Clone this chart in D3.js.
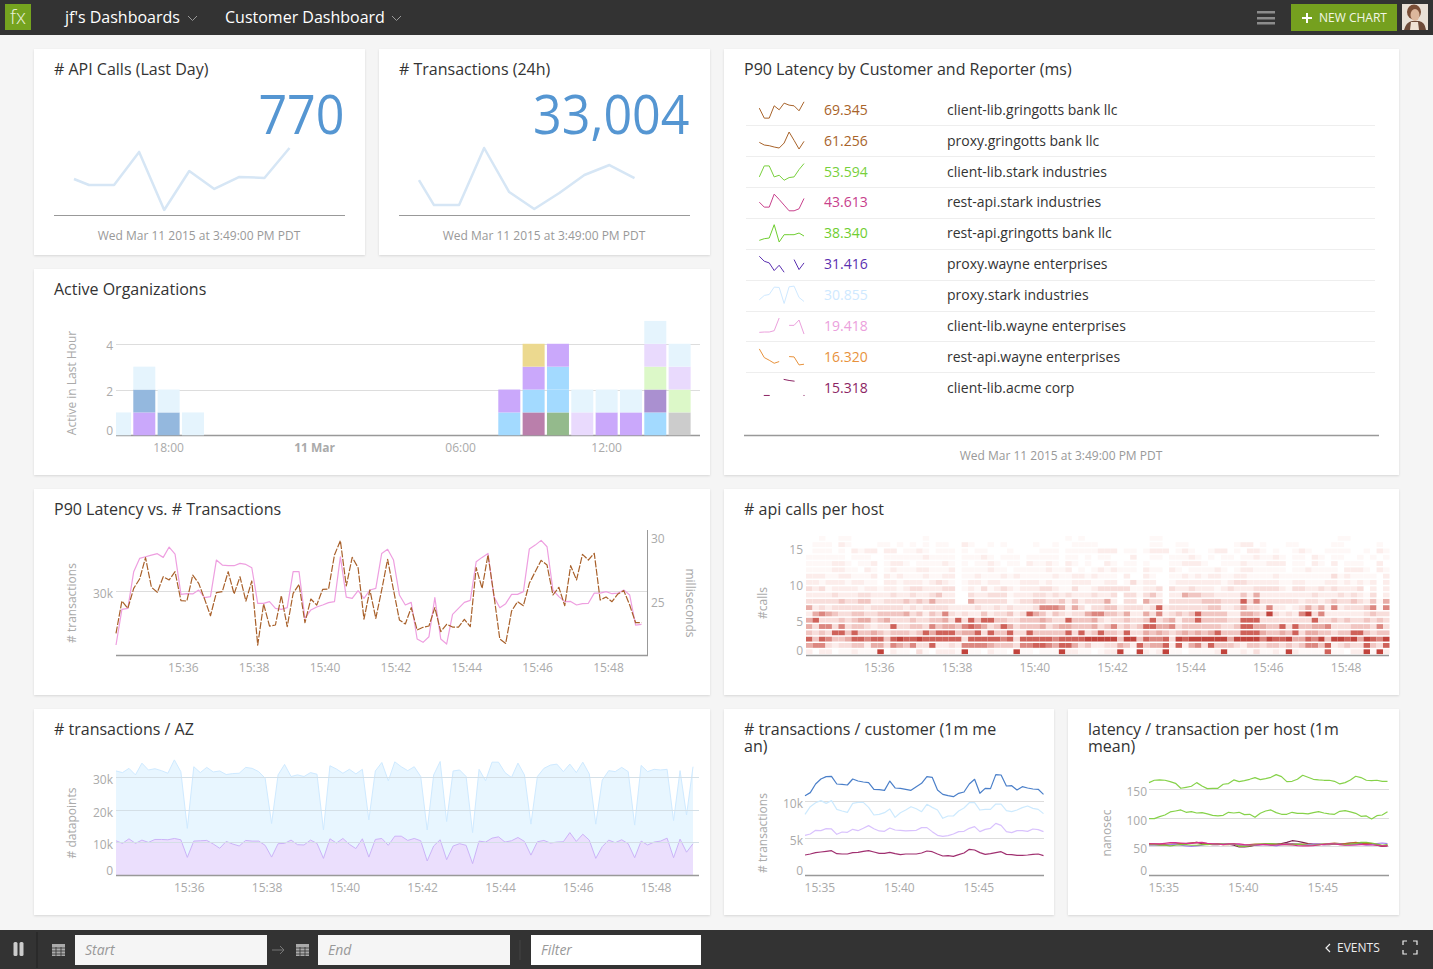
<!DOCTYPE html>
<html>
<head>
<meta charset="utf-8">
<title>Customer Dashboard</title>
<script src="https://cdn.jsdelivr.net/npm/d3@7"></script>
<style>
  html, body { margin: 0; padding: 0; background: #f5f5f5; overflow: hidden; }
  svg { display: block; font-family: 'Open Sans', sans-serif; }
  .card { fill: #fff; filter: drop-shadow(0 1px 1px rgba(0,0,0,0.12)); }
  .title { font-size: 16px; fill: #333; }
  .stamp { font-size: 12px; fill: #999; text-anchor: middle; }
  .big { font-size: 54px; font-weight: 400; fill: #5596d2; text-anchor: end; }
  .axis text { font-size: 12px; fill: #aaa; font-family: 'Open Sans', sans-serif; }
  .axis path, .axis line { display: none; }
  .axis-label { font-size: 12px; fill: #aaa; text-anchor: middle; }
  .grid { stroke: #ddd; stroke-width: 1; }
  .base { stroke: #999; stroke-width: 1.5; }
  .row-sep { stroke: #eee; stroke-width: 1; }
  .nav { font-size: 16px; fill: #fff; }
  .hint { font-size: 14px; font-style: italic; fill: #999; }
  path.ln { fill: none; }
</style>
</head>
<body>
<svg id="page" width="1433" height="969"></svg>
<script>
// ---- number cards (first sample starts part way through its bucket)
const sparkSlots = [0.4, 1, 2, 3, 4, 5, 6, 7, 8, 9];
const apiCalls = [414, 345, 345, 725, 58, 506, 299, 437, 426, 770];
const transactions24h = [31.2, 8.9, 8.9, 59.8, 20.5, 5.4, 19.6, 35.7, 44.6, 33.0];
const stampText = 'Wed Mar 11 2015 at 3:49:00 PM PDT';

// ---- latency table
const latencyValues = ['69.345', '61.256', '53.594', '43.613', '38.340', '31.416', '30.855', '19.418', '16.320', '15.318'];
const latencyNames = ['client-lib.gringotts bank llc', 'proxy.gringotts bank llc', 'client-lib.stark industries', 'rest-api.stark industries',
  'rest-api.gringotts bank llc', 'proxy.wayne enterprises', 'proxy.stark industries', 'client-lib.wayne enterprises',
  'rest-api.wayne enterprises', 'client-lib.acme corp'];
const latencyColors = ['#a8632a', '#a8632a', '#78d03c', '#c8408c', '#6fce30', '#5a2fb0', '#cfe9ff', '#eba0dc', '#e8923c', '#8c2464'];
const latencySparks = [
  [32, 2, 2, 39, 27, 47, 41, 39, 24, 51],
  [22, 14, 12, 8, 5, 20, 53, 28, 2, 25],
  [11, 44, 44, 11, 16, 1, 9, 11, 33, 51],
  [28, 13, 13, 52, 36, 19, 2, 2, 8, 39],
  [6, 11, 13, 53, 1, 23, 23, 23, 28, 19],
  [51, 36, 31, 8, 24, 3, null, 41, 11, 31],
  [13, 26, 29, 51, 50, 2, 52, 54, 20, 8],
  [8, 9, 9, 13, 51, null, 29, 29, 45, 3],
  [51, 25, 17, 8, 13, null, 28, 27, 3, 5],
  [null, 4, 4, null, null, 52, 49, 47, null, 4]
];

// ---- active organizations, one stack per hour, bottom org first
const orgHours = [16, 17, 18, 19, 32, 33, 34, 35, 36, 37, 38, 39];
const orgStacks = [
  ['pale'],
  ['purple', 'steel', 'pale'],
  ['steel', 'pale'],
  ['pale'],
  ['sky', 'purple'],
  ['mauve', 'sky', 'purple', 'gold'],
  ['sage', 'sky', 'sky', 'purple'],
  ['lilac', 'pale'],
  ['purple', 'pale'],
  ['purple', 'pale'],
  ['sky', 'plum', 'lime', 'lilac', 'pale'],
  ['grey', 'lime', 'lilac', 'pale']
];
const orgNames = ['pale', 'purple', 'steel', 'sky', 'mauve', 'gold', 'sage', 'lilac', 'plum', 'lime', 'grey'];
const orgColors = ['#e5f4fd', '#caa8fb', '#94b8de', '#a3daff', '#ba7fab', '#ecd98f', '#94ba8c', '#e9dafd', '#aa90d0', '#dcf8c8', '#cccccc'];

// ---- P90 latency vs transactions, one point every 10 seconds
const p90Transactions = [25.78, 28.57, 28.65, 31.51, 32.55, 32.68, 32.81, 32.92, 32.63, 33.44, 32.89, 29.74, 29.79, 29.77, 30.08, 29.48, 29.56, 32.42, 32.03, 31.98, 31.98, 32.16, 32.08, 31.82, 29.04, 29.04, 29.17, 28.65, 28.57, 28.70, 31.51, 31.51, 27.87, 28.52, 28.75, 28.91, 29.09, 29.17, 32.68, 29.53, 29.43, 30.03, 29.43, 30.08, 30.21,
  32.94, 33.26, 32.42, 29.69, 28.91, 29.11, 26.25, 25.99, 26.43, 29.48, 26.25, 25.86, 28.18, 28.65, 29.11, 29.27, 32.29, 32.63, 32.94, 29.56, 28.70, 29.01, 29.74, 29.74, 29.95, 33.28, 33.59, 33.96, 33.46, 30.08, 29.56, 29.17, 29.19, 28.91, 29.01, 29.04, 29.84, 29.84, 29.95, 29.79, 29.84, 30.08, 29.69, 27.34, 27.40];
const p90Latency = [22.60, 25.11, 24.54, 26.10, 26.82, 28.48, 26.18, 25.79, 27.00, 26.75, 27.39, 25.14, 25.11, 27.13, 26.49, 25.27, 23.97, 25.76, 25.84, 27.39, 25.66, 27.00, 25.11, 26.67, 21.69, 24.88, 23.17, 23.25, 25.53, 23.12, 25.71, 26.41, 23.43, 25.27, 24.80, 26.02, 26.05, 28.69, 29.80, 26.28, 28.51, 27.70, 23.71, 25.97, 23.77,
  25.97, 28.35, 25.97, 23.64, 23.33, 24.60, 22.86, 23.07, 23.17, 24.60, 22.73, 23.30, 23.09, 23.09, 23.69, 23.12, 27.70, 26.10, 28.69, 25.58, 22.16, 21.82, 24.34, 25.06, 24.75, 26.49, 27.39, 28.27, 27.91, 25.58, 26.18, 24.75, 27.86, 26.75, 28.74, 28.30, 28.82, 25.19, 25.42, 25.06, 25.66, 25.92, 24.80, 23.43, 23.43];

// ---- api calls per host heatmap: one string per bucket (bottom first), one density digit per 10s column
const heatRows = [
  '2022011211 1802110310 2221811021 1081101118 2211012281 0821281101 1112811213 1121821111 7110228182',
  '5663233442 5536546337 2232666654 4436677657 7534223354 2745572725 6374443244 3443434664 7234337437',
  '7476445776 7747877877 7777377777 6737777767 7778888848 8476673878 8888858888 6877855768 4887858768',
  '4343774744 5434443475 7774557374 4733744444 7373474437 3354543454 5457444777 5445473554 4344774344',
  '5366363443 2337334436 4554676534 7534445345 5444534634 3477556344 4444334775 5447374455 6333444363',
  '5733343455 3453334334 4537374774 4334445433 7444532334 3347345244 7444433777 3333333373 3434334343',
  '2565433443 3444453424 3632322423 3423754243 2335664435 2253623434 7444422554 3832326836 2222223433',
  '5232333332 3333323233 3322223223 2322236665 2531334423 3323723333 3344223533 2622123535 2623334616',
  '3333343344 2233343435 3330053333 3123344334 2423335203 3053303333 3444333736 3333332332 3433432415',
  '2222322233 2223223223 4220032233 3122233232 3222322303 3134202254 4332222425 2222222232 2232321302',
  '3231222212 2122123322 2330121312 3212223321 1311233333 1122303223 2221232223 3332133223 2322230202',
  '2212221221 1022122212 3210122122 1112221211 1222112201 3122001222 2222123322 2221122111 2212121202',
  '2221122111 2021211121 1220112111 2121111121 1221211102 0021001121 2122112211 1121111111 1312111102',
  '1111221102 1012111221 1120111121 1011111211 2010121211 1021102101 1112101221 1111011211 1102221021',
  '1111221011 2012210111 1210101121 0110211210 2101002101 1010001122 2100111211 1222011021 0201110020',
  '1111110111 0011111121 1110111210 1110111110 1101011000 2001101112 1010110112 1121011021 0110010101',
  '0111010212 2022011210 1110101100 0100001110 1111122201 1012220121 0012201022 1010012100 1111001021',
  '0111021000 0110101010 1100210010 1000010010 0111100000 0001100110 0000001220 1000110000 0110000010',
  '0010011000 0000000010 0000000000 0000000000 1010000000 0001100000 0000000000 0000000000 0011000000'
];
const heatBinSize = 0.875;
const heatLevels = [0, 1, 2, 3, 4, 5, 6, 7, 8];
const heatShades = ['#ffffff', '#fef8f7', '#fcedeb', '#f8dedb', '#f1c6c2', '#e8aca6', '#dc8780', '#cf625a', '#c1433c'];

// ---- transactions by AZ (stacked, thousands)
const azLower = [10.5, 9.7, 11.1, 9.7, 10.7, 10.0, 10.9, 10.9, 10.8, 11.2, 10.8, 5.4, 10.4, 10.5, 10.6, 9.5, 8.2, 10.3, 9.5, 8.9, 10.6, 10.4, 10.4, 9.1, 5.5, 9.6, 9.7, 10.7, 9.3, 9.2, 10.7, 9.7, 5.1, 11.1, 9.8, 11.2, 9.4, 8.1, 11.1, 5.5, 10.9, 11.2, 9.1, 11.9, 11.9, 10.6, 11.2, 10.5, 4.3, 8.9, 10.8, 4.7, 8.9, 9.6, 9.1, 3.5, 10.4, 10.1, 11.3, 11.7, 10.1, 10.5, 11.5, 10.3, 6.1, 10.2, 10.6, 9.8, 10.1, 10.2, 13.0, 10.3, 12.5, 10.7, 5.1, 8.7, 10.7, 9.9, 10.8, 9.6, 5.3, 10.4, 9.2, 10.1, 10.4, 11.3, 5.3, 11.0, 7.0, 9.6];
const azTotal = [31.9, 31.4, 32.7, 30.7, 34.3, 32.2, 32.6, 32.0, 31.2, 35.3, 31.7, 14.3, 33.2, 31.4, 33.0, 31.6, 31.9, 30.8, 31.1, 31.2, 33.0, 32.7, 31.7, 29.7, 15.8, 30.7, 33.9, 30.2, 30.7, 30.2, 31.4, 30.9, 13.8, 33.5, 32.5, 31.2, 32.4, 31.0, 32.4, 16.9, 31.9, 34.5, 28.9, 34.7, 33.2, 32.0, 33.2, 30.2, 13.8, 30.7, 34.8, 16.4, 31.9, 32.2, 30.2, 13.0, 32.4, 28.9, 34.6, 34.6, 31.4, 29.9, 34.3, 30.7, 15.6, 30.2, 32.7, 33.7, 34.0, 31.7, 34.0, 31.4, 34.6, 31.0, 15.6, 29.1, 32.0, 31.7, 33.0, 31.7, 15.3, 33.6, 31.7, 32.4, 32.2, 32.4, 16.7, 32.0, 18.4, 33.2];

// ---- transactions per customer (thousands), one point every 20 seconds
const custBlue = [10.72, 11.13, 12.30, 12.97, 13.29, 13.33, 12.30, 12.25, 12.16, 12.97, 12.70, 12.57, 12.48, 11.58, 11.53, 11.44, 12.70, 11.76, 11.71, 11.58, 11.44, 11.94, 12.39, 13.29, 13.20, 11.49, 10.90, 10.72, 10.59, 11.04, 11.22, 12.30, 12.93, 11.04, 11.71, 11.67, 13.56, 13.51, 12.03, 12.07, 11.49, 11.94, 11.76, 11.62, 11.58, 10.90];
const custPale = [8.20, 9.23, 9.77, 10.05, 9.68, 10.05, 8.87, 8.65, 8.47, 9.68, 9.82, 9.82, 9.14, 8.11, 8.20, 8.42, 8.92, 7.79, 8.42, 8.78, 9.23, 8.96, 8.56, 9.55, 9.14, 8.78, 7.66, 7.97, 7.97, 8.65, 9.05, 9.77, 9.77, 8.78, 8.87, 8.87, 9.59, 9.59, 8.69, 8.56, 8.78, 9.10, 9.32, 9.01, 8.87, 8.29];
const custLilac = [5.36, 5.54, 6.04, 5.99, 6.26, 6.22, 5.50, 5.81, 5.77, 6.17, 5.99, 6.31, 6.67, 6.26, 5.95, 5.90, 6.35, 6.08, 6.04, 5.95, 5.99, 6.04, 6.40, 6.40, 5.86, 5.36, 5.23, 5.32, 5.54, 5.86, 5.90, 6.31, 6.53, 5.86, 6.17, 6.31, 6.98, 6.71, 5.86, 5.72, 5.99, 5.99, 5.90, 6.22, 6.13, 5.86];
const custMaroon = [2.70, 2.84, 3.02, 3.11, 3.20, 3.29, 2.88, 2.84, 2.84, 3.02, 3.06, 3.20, 3.29, 3.11, 2.93, 2.93, 3.06, 2.88, 2.75, 2.84, 2.84, 2.84, 2.97, 3.24, 3.15, 2.84, 2.57, 2.61, 2.52, 2.75, 2.97, 3.47, 3.38, 3.02, 2.79, 2.88, 3.02, 3.15, 2.79, 2.75, 2.66, 2.66, 2.70, 2.79, 2.84, 2.61];

// ---- latency per host (nanosec)
const hostTop = [161.6, 165.7, 166.3, 165.7, 163.4, 160.4, 151.7, 153.4, 155.2, 161.6, 155.8, 151.1, 151.7, 151.7, 158.7, 159.9, 166.3, 163.4, 165.1, 167.4, 170.4, 166.9, 168.6, 170.9, 175.6, 172.1, 163.4, 163.9, 167.4, 174.4, 170.9, 167.4, 166.3, 165.7, 165.7, 163.9, 159.3, 161.6, 166.3, 172.7, 170.4, 165.7, 165.1, 165.7, 163.9, 163.9];
const hostSecond = [98.6, 98.6, 102.1, 105.0, 110.3, 112.0, 113.8, 109.7, 110.8, 108.5, 109.1, 106.8, 104.4, 103.3, 104.4, 109.7, 108.5, 109.7, 105.6, 106.2, 100.9, 107.9, 112.0, 113.8, 109.1, 106.2, 106.2, 109.7, 107.9, 107.9, 106.8, 109.1, 110.8, 108.5, 106.8, 106.2, 111.4, 112.6, 110.3, 107.9, 102.7, 103.3, 98.0, 103.8, 105.0, 110.8];
const hostPurple = [52, 52, 52, 52, 53, 54, 52, 51, 50, 51, 52, 54, 54, 55, 54, 54, 54, 53, 52, 52, 52, 53, 53, 52, 51, 53, 54, 54, 54, 53, 53, 54, 54, 53, 54, 55, 54, 53, 53, 53, 54, 52, 53, 55, 56, 55];
const hostOlive = [53, 53, 52, 52, 51, 52, 53, 53, 52, 52, 53, 53, 54, 55, 54, 54, 55, 50, 50, 51, 53, 54, 55, 55, 54, 53, 53, 53, 54, 53, 52, 52, 53, 54, 54, 55, 53, 53, 54, 55, 57, 57, 56, 54, 52, 53];
const hostBrown = [55, 54, 54, 53, 54, 54, 55, 55, 56, 57, 56, 55, 54, 54, 53, 53, 54, 52, 52, 53, 54, 54, 53, 53, 53, 54, 55, 55, 54, 54, 54, 53, 53, 54, 55, 56, 55, 55, 56, 57, 56, 55, 55, 53, 51, 52];
const hostMaroon = [54, 54, 53, 53, 53, 54, 54, 55, 56, 57, 55, 54, 53, 53, 54, 54, 52, 49, 49, 50, 52, 53, 54, 54, 54, 55, 57, 60, 59, 57, 55, 54, 54, 53, 53, 54, 54, 55, 56, 56, 55, 54, 54, 52, 50, 51];
const hostMagenta = [54.3, 54.3, 54.3, 55.4, 56.6, 56.6, 56.0, 55.4, 55.4, 56.6, 57.2, 55.4, 54.3, 54.3, 53.1, 54.3, 54.3, 54.3, 53.1, 52.5, 52.5, 53.1, 53.7, 52.0, 52.5, 53.1, 53.1, 52.5, 51.3, 50.8, 50.8, 51.3, 52.5, 53.7, 54.3, 54.3, 53.1, 52.0, 52.0, 52.5, 53.1, 53.1, 52.5, 52.0, 50.8, 50.8];

// Helpers
const svg = d3.select('#page');
const at = (h, m, s) => new Date(2015, 2, 11, h, m, s || 0);
const seconds = (start, step, i) => new Date(start.getTime() + step * i * 1000);
const hhmm = d3.timeFormat('%H:%M');
const twoMin = [36, 38, 40, 42, 44, 46, 48].map(m => at(15, m));
const fiveMin = [35, 40, 45].map(m => at(15, m));

svg.append('rect').attr('width', 1433).attr('height', 969).attr('fill', '#f5f5f5');

function card(x, y, w, h, title, title2) {
    svg.append('rect').attr('class', 'card').attr('x', x).attr('y', y).attr('width', w).attr('height', h);
    const t = svg.append('text').attr('class', 'title').attr('x', x + 20).attr('y', y + 25.5);
    t.append('tspan').text(title);
    if (title2) t.append('tspan').attr('x', x + 20).attr('dy', 17).text(title2);
}

function yAxis(scale, x, values, labelFmt, zeroLift, side, shift) {
    const axis = (side === 'right' ? d3.axisRight(scale) : d3.axisLeft(scale))
        .tickValues(values).tickSize(0).tickPadding(0).tickFormat(labelFmt || (d => d));
    const g = svg.append('g').attr('class', 'axis').attr('transform', `translate(${x},0)`).call(axis);
    g.selectAll('text').attr('y', d => d === 0 ? -zeroLift : (shift || 0));
}

function xAxis(scale, y, values, fmt) {
    const g = svg.append('g').attr('class', 'axis').attr('transform', `translate(0,${y})`)
        .call(d3.axisBottom(scale).tickValues(values).tickSize(0).tickPadding(8).tickFormat(fmt));
    g.selectAll('text').attr('x', -0.5);
    return g;
}

function grid(scale, values, x1, x2) {
    svg.selectAll(null).data(values).join('line').attr('class', 'grid')
        .attr('x1', x1).attr('x2', x2).attr('y1', d => Math.round(scale(d)) + 0.5).attr('y2', d => Math.round(scale(d)) + 0.5);
}

function baseLine(x1, x2, y) {
    svg.append('line').attr('class', 'base').attr('x1', x1).attr('x2', x2).attr('y1', y).attr('y2', y);
}

function vLabel(text, x, y, angle) {
    svg.append('text').attr('class', 'axis-label').attr('transform', `translate(${x},${y}) rotate(${angle || -90})`).text(text);
}

function drawLine(values, xOf, yOf, color, width, dash) {
    const line = d3.line().defined(d => d !== null).x((d, i) => xOf(i)).y(d => yOf(d));
    const p = svg.append('path').attr('class', 'ln').attr('d', line(values))
        .attr('stroke', color).attr('stroke-width', width).attr('stroke-linejoin', 'round');
    if (dash) p.attr('stroke-dasharray', dash);
    return p;
}

// Top bar
svg.append('rect').attr('width', 1433).attr('height', 35).attr('fill', '#333');
svg.append('rect').attr('x', 5).attr('y', 4).attr('width', 26).attr('height', 26).attr('fill', '#75a31f');
svg.append('text').attr('x', 18).attr('y', 24).attr('text-anchor', 'middle').attr('font-size', 20).attr('font-weight', 300).attr('fill', '#e8f0d8').text('fx');
svg.append('text').attr('class', 'nav').attr('x', 65).attr('y', 23).text("jf's Dashboards");
svg.append('text').attr('class', 'nav').attr('x', 225).attr('y', 23).text('Customer Dashboard');
[[188, 16], [392, 16]].forEach(c => {
    svg.append('path').attr('d', `M${c[0]},${c[1]}l4.5,4.5l4.5,-4.5`).attr('fill', 'none').attr('stroke', '#999').attr('stroke-width', 1);
});
[11, 17, 22].forEach(y => svg.append('rect').attr('x', 1257).attr('y', y).attr('width', 18).attr('height', 2.5).attr('fill', '#8c8c8c'));
svg.append('rect').attr('x', 1291).attr('y', 4).attr('width', 106).attr('height', 27).attr('fill', '#75a01f');
svg.append('path').attr('d', 'M1302,18h10M1307,13v10').attr('stroke', '#fff').attr('stroke-width', 2);
svg.append('text').attr('x', 1319).attr('y', 22).attr('font-size', 12).attr('fill', '#f2f6e6').text('NEW CHART');
// avatar
svg.append('rect').attr('x', 1402).attr('y', 4).attr('width', 26).attr('height', 26).attr('fill', '#e9e0d6');
svg.append('path').attr('d', 'M1404,30q2,-8 8,-9h7q6,1 7,9z').attr('fill', '#6d4a38');
svg.append('ellipse').attr('cx', 1414).attr('cy', 12).attr('rx', 7).attr('ry', 7.5).attr('fill', '#7a4e36');
svg.append('ellipse').attr('cx', 1415).attr('cy', 15).attr('rx', 4.5).attr('ry', 6).attr('fill', '#dcb79c');
svg.append('path').attr('d', 'M1411,22h7l1,8h-9z').attr('fill', '#efe2d4');

// Number cards
function numberCard(x, title, big, values, sx1, sx2) {
    card(x, 49, 331, 206, title);
    svg.append('text').attr('class', 'big')
        .attr('transform', `translate(${x + 310.5},134) scale(0.93,1)`).text(big);
    const sx = d3.scaleLinear().domain([1, 9]).range([sx1, sx2]);
    const sy = d3.scaleLinear().domain([0, d3.max(values)]).range([215, 148]);
    drawLine(values, i => sx(sparkSlots[i]), sy, '#d6e6f5', 2.5);
    svg.append('line').attr('x1', x + 20).attr('x2', x + 311).attr('y1', 215.5).attr('y2', 215.5).attr('stroke', '#999');
    svg.append('text').attr('class', 'stamp').attr('x', x + 165).attr('y', 240).text(stampText);
}
numberCard(34, '# API Calls (Last Day)', '770', apiCalls, 89, 289.5);
numberCard(379, '# Transactions (24h)', '33,004', transactions24h, 434, 634.5);

// Latency table
card(724, 49, 675, 426, 'P90 Latency by Customer and Reporter (ms)');
const rowY = d3.scaleLinear().domain([0, 9]).range([109.8, 387.8]);
const sparkX = d3.scaleLinear().domain([0, 9]).range([759.3, 804]);
latencySparks.forEach((vals, r) => {
    const cy = rowY(r);
    const sy = d3.scaleLinear().domain([0, 54]).range([cy + 9, cy - 9]);
    drawLine(vals, sparkX, sy, latencyColors[r], 1).attr('stroke-linecap', r === 9 ? 'square' : 'butt');
    svg.append('text').attr('x', 824).attr('y', cy + 5).attr('font-size', 14).attr('fill', latencyColors[r]).text(latencyValues[r]);
    svg.append('text').attr('x', 947).attr('y', cy + 5).attr('font-size', 14).attr('fill', '#333').text(latencyNames[r]);
    if (r < 9) {
        const sepY = Math.round((rowY(r) + rowY(r + 1)) / 2) + 0.5;
        svg.append('line').attr('class', 'row-sep').attr('x1', 746).attr('x2', 1375).attr('y1', sepY).attr('y2', sepY);
    }
});
baseLine(744, 1379, 435.5);
svg.append('text').attr('class', 'stamp').attr('x', 1061).attr('y', 460).text(stampText);

// Active organizations
card(34, 269, 676, 206, 'Active Organizations');
const orgX = d3.scaleTime().domain([new Date(2015, 2, 10, 15, 49), new Date(2015, 2, 11, 15, 49)]).range([115.5, 699.5]);
const orgY = d3.scaleLinear().domain([0, 5]).range([435.3, 320.9]);
const orgColor = d3.scaleOrdinal().domain(orgNames).range(orgColors);
svg.append('clipPath').attr('id', 'orgClip').append('rect').attr('x', 116).attr('y', 300).attr('width', 584).attr('height', 140);
grid(orgY, [2, 4], 116, 700);
baseLine(116, 700, 435.5);
const orgG = svg.append('g').attr('clip-path', 'url(#orgClip)');
orgHours.forEach((hour, i) => {
    const t = new Date(2015, 2, 10, hour);
    orgStacks[i].forEach((org, level) => {
        orgG.append('rect').attr('x', orgX(t) - 11).attr('width', 22)
            .attr('y', orgY(level + 1)).attr('height', orgY(level) - orgY(level + 1))
            .attr('fill', orgColor(org));
    });
});
yAxis(orgY, 113, [0, 2, 4], null, 5, 'left', 2);
const orgAxis = xAxis(orgX, 435.5, [new Date(2015, 2, 10, 18), at(0, 0), at(6, 0), at(12, 0)],
    d => d.getHours() === 0 ? '11 Mar' : hhmm(d));
orgAxis.selectAll('text').filter(d => d.getHours() === 0).attr('font-weight', 700);
vLabel('Active in Last Hour', 76, 383);

// P90 latency vs transactions
card(34, 489, 676, 206, 'P90 Latency vs. # Transactions');
const p90X = d3.scaleTime().domain([at(15, 34, 6), at(15, 49, 7)]).range([116, 648]);
const p90YLeft = d3.scaleLinear().domain([25, 34.77]).range([655, 530]);
const p90YRight = d3.scaleLinear().domain([20.92, 30.63]).range([655, 530]);
const p90Xi = i => p90X(seconds(at(15, 34, 6), 10, i));
grid(p90YLeft, [30], 116, 648);
drawLine(p90Transactions, p90Xi, p90YLeft, '#ee9fe0', 1.2);
drawLine(p90Latency, p90Xi, p90YRight, '#a8602a', 1.2, '7,1.5');
baseLine(116, 648, 655.5);
svg.append('line').attr('class', 'base').style('stroke-width', 1).attr('x1', 647.5).attr('x2', 647.5).attr('y1', 530).attr('y2', 656);
yAxis(p90YLeft, 113, [30], d => d + 'k', 0, 'left', 2.5);
yAxis(p90YRight, 651, [25, 30], null, 0, 'right', 0.5);
xAxis(p90X, 655.5, twoMin, hhmm);
vLabel('# transactions', 76, 603);
vLabel('milliseconds', 686, 603, 90);

// Heatmap
card(724, 489, 675, 206, '# api calls per host');
const heatX = d3.scaleTime().domain([at(15, 34, 7), at(15, 49, 7)]).range([806, 1389.5]);
const heatY = d3.scaleLinear().domain([0, 15]).range([657.7, 549.7]);
const heatColor = d3.scaleOrdinal().domain(heatLevels).range(heatShades);
const heatCells = [];
heatRows.forEach((row, r) => {
    row.replace(/ /g, '').split('').forEach((digit, c) => {
        if (+digit > 0) heatCells.push({ r, c, level: +digit });
    });
});
const colWidth = heatX(at(15, 36, 10)) - heatX(at(15, 36, 0));
svg.append('g').selectAll('rect').data(heatCells).join('rect')
    .attr('x', d => heatX(seconds(at(15, 34, 7), 10, d.c)))
    .attr('width', colWidth)
    .attr('y', d => heatY(0.83 + heatBinSize * d.r) - 2.4)
    .attr('height', 4.8)
    .attr('fill', d => heatColor(d.level));
baseLine(806, 1389, 655.5);
yAxis(heatY, 803, [0, 5, 10, 15], null, 7);
xAxis(heatX, 655.5, twoMin, hhmm);
vLabel('#calls', 767, 603);

// Transactions by AZ
card(34, 709, 676, 206, '# transactions / AZ');
const azX = d3.scaleTime().domain([at(15, 34, 7), at(15, 49, 7)]).range([116, 699.5]);
const azY = d3.scaleLinear().domain([0, 36]).range([875, 757.6]);
const azXi = i => azX(seconds(at(15, 34, 7), 10, i));
const azArea = (lo, hi) => d3.area().x((d, i) => azXi(i)).y0((d, i) => azY(lo ? lo[i] : 0)).y1((d, i) => azY(hi[i]));
svg.append('path').attr('d', azArea(azLower, azTotal)(azTotal)).attr('fill', '#e8f6ff');
svg.append('path').attr('d', azArea(null, azLower)(azLower)).attr('fill', '#ebdffd');
drawLine(azTotal, azXi, azY, '#cfeaff', 1);
drawLine(azLower, azXi, azY, '#cbb3f8', 1);
grid(azY, [10, 20, 30], 116, 699);
svg.selectAll('line.grid').filter(function () { return +this.getAttribute('y1') > 700; }).style('stroke', '#d4dfe6');
baseLine(116, 699, 875.5);
yAxis(azY, 113, [0, 10, 20, 30], d => d ? d + 'k' : '0', 4, 'left', 2.5);
xAxis(azX, 875.5, twoMin, hhmm);
vLabel('# datapoints', 76, 823);

// Transactions per customer
card(724, 709, 330, 206, '# transactions / customer (1m me', 'an)');
const custX = d3.scaleTime().domain([at(15, 34, 4), at(15, 49, 4)]).range([805, 1043.5]);
const custY = d3.scaleLinear().domain([0, 14]).range([875, 771.4]);
const custXi = i => custX(seconds(at(15, 34, 4), 20, i));
grid(custY, [5, 10], 805, 1044);
drawLine(custPale, custXi, custY, '#cdeafe', 1.2);
drawLine(custLilac, custXi, custY, '#d9c2fd', 1.2);
drawLine(custBlue, custXi, custY, '#4a7fc9', 1.2);
drawLine(custMaroon, custXi, custY, '#a03070', 1.2);
baseLine(805, 1044, 875.5);
yAxis(custY, 803, [0, 5, 10], d => d ? d + 'k' : '0', 4, 'left', 2.5);
xAxis(custX, 875.5, fiveMin, hhmm);
vLabel('# transactions', 767, 833);

// Latency per host
card(1068, 709, 331, 206, 'latency / transaction per host (1m', 'mean)');
const hostX = d3.scaleTime().domain([at(15, 34, 4), at(15, 49, 4)]).range([1149, 1387.5]);
const hostY = d3.scaleLinear().domain([0, 180]).range([875, 772.1]);
const hostXi = i => hostX(seconds(at(15, 34, 4), 20, i));
grid(hostY, [50, 100, 150], 1149, 1389);
[[hostTop, '#86d24a'], [hostSecond, '#86d24a'], [hostMaroon, '#7a1f4f'], [hostBrown, '#b8672a'], [hostPurple, '#a77ff0'], [hostOlive, '#7fc23a'], [hostMagenta, '#d92f8f']]
    .forEach(s => drawLine(s[0], hostXi, hostY, s[1], 1.2));
baseLine(1149, 1389, 875.5);
yAxis(hostY, 1147, [0, 50, 100, 150], null, 4, 'left', 2.5);
xAxis(hostX, 875.5, fiveMin, hhmm);
vLabel('nanosec', 1111, 833);

// Footer
svg.append('rect').attr('y', 930).attr('width', 1433).attr('height', 39).attr('fill', '#333');
[13.5, 19.5].forEach(x => svg.append('rect').attr('x', x).attr('y', 942).attr('width', 4).attr('height', 14).attr('rx', 1.5).attr('fill', '#ccc'));
svg.append('line').attr('x1', 37).attr('x2', 37).attr('y1', 932).attr('y2', 968).attr('stroke', '#222');
[[75, 192, '#f5f5f5', 'Start'], [318, 192, '#f5f5f5', 'End'], [531, 170, '#fff', 'Filter']].forEach(b => {
    svg.append('rect').attr('x', b[0]).attr('y', 935).attr('width', b[1]).attr('height', 30).attr('fill', b[2]);
    svg.append('text').attr('class', 'hint').attr('x', b[0] + 10).attr('y', 955).text(b[3]);
});
[52, 296].forEach(x => {
    svg.append('rect').attr('x', x).attr('y', 944).attr('width', 13).attr('height', 12).attr('fill', '#aaa');
    svg.append('path').attr('d', `M${x},948h13M${x},951h13M${x},954h13M${x + 4},947v9M${x + 9},947v9`).attr('stroke', '#333').attr('stroke-width', 0.8);
});
svg.append('path').attr('d', 'M272,950h12M280,946l4,4l-4,4').attr('fill', 'none').attr('stroke', '#777').attr('stroke-width', 1);
svg.append('line').attr('x1', 520).attr('x2', 520).attr('y1', 940).attr('y2', 960).attr('stroke', '#444');
svg.append('path').attr('d', 'M1330,944l-4,4l4,4').attr('fill', 'none').attr('stroke', '#eee').attr('stroke-width', 1.2);
svg.append('text').attr('x', 1337).attr('y', 952).attr('font-size', 12).attr('fill', '#eee').text('EVENTS');
svg.append('path').attr('d', 'M1403,945v-4h4M1413,941h4v4M1417,950v4h-4M1407,954h-4v-4').attr('fill', 'none').attr('stroke', '#eee').attr('stroke-width', 1.2);
</script>
</body>
</html>
